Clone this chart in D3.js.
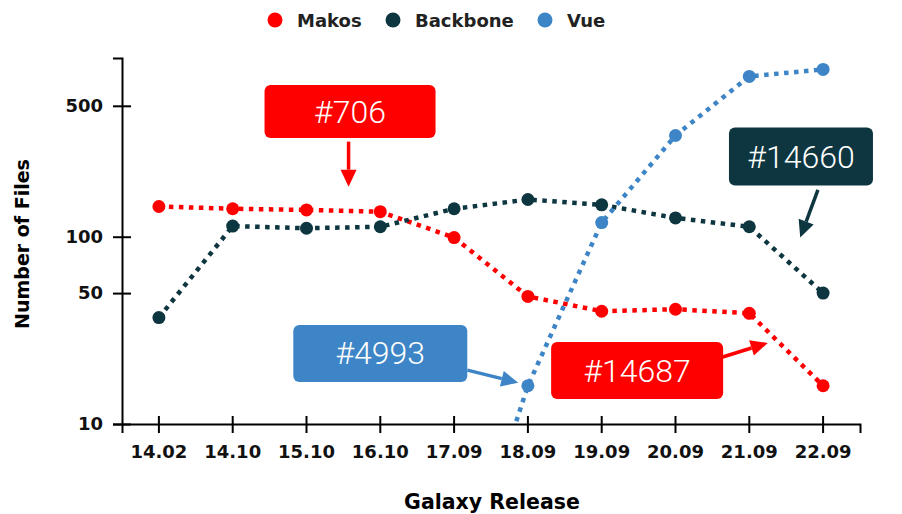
<!DOCTYPE html>
<html>
<head>
<meta charset="utf-8">
<script src="https://cdn.jsdelivr.net/npm/d3@7"></script>
<style>
  body { margin: 0; background: #fff; }
  svg text { font-family: "DejaVu Sans", Verdana, sans-serif; }
</style>
</head>
<body>
<script>
var releases = ["14.02", "14.10", "15.10", "16.10", "17.09", "18.09", "19.09", "20.09", "21.09", "22.09"];
var makos    = [145, 141, 139, 136, 99, 48, 40, 41, 39, 16];
var backbone = [37, 114, 111, 113, 141, 158, 148, 126, 113, 50];
var vue      = [null, null, null, null, 1, 16, 119, 347, 718, 782];
var yTicks   = [10, 50, 100, 500];

var seriesNames  = ["Makos", "Backbone", "Vue"];
var seriesColors = ["#ff0000", "#0e3640", "#3d85c6"];

// annotation boxes: box centre / arrow in (release index, file count)
var noteLabels = ["#706", "#14660", "#4993", "#14687"];
var noteColors = ["#ff0000", "#0e3640", "#3d85c6", "#ff0000"];
var noteBox    = [[2.59, 466], [8.70, 268], [3.00, 23.8], [6.48, 19.3]];
var noteFrom   = [[2.57, 322], [8.93, 178], [4.18, 19.4], [7.64, 22.8]];
var noteTo     = [[2.57, 185], [8.69, 99], [4.87, 16.6], [8.25, 27.1]];
var noteSize   = [[171, 53], [144, 58], [174, 57], [172, 57]];

var W = 902, H = 514;
var margin = {top: 58, right: 42, bottom: 90, left: 122},
    width = W - margin.left - margin.right,
    height = H - margin.top - margin.bottom;

var svg = d3.select("body").append("svg")
    .attr("width", W)
    .attr("height", H);

var g = svg.append("g")
    .attr("transform", "translate(" + margin.left + "," + margin.top + ")");

var x = d3.scaleBand().domain(releases).range([0, width]);
var y = d3.scaleLog().domain([10, 900]).range([height, 0]);

function xc(d) { return x(d) + x.bandwidth() / 2; }
function xPos(i) { return x(releases[0]) + x.bandwidth() / 2 + i * x.step(); }

g.append("clipPath").attr("id", "plot-clip")
  .append("rect").attr("x", 0).attr("y", 0).attr("width", width).attr("height", height);

// axes
var xAxis = g.append("g")
    .attr("transform", "translate(0," + height + ")")
    .call(d3.axisBottom(x).tickSizeOuter(0).tickSize(9).tickPadding(12));
xAxis.selectAll(".tick line").attr("y1", -8).attr("stroke-width", 2);
xAxis.select(".domain").attr("stroke-width", 2);
xAxis.selectAll(".tick text")
    .style("font-size", "18px").style("font-weight", "bold").attr("fill", "#111");

var yAxis = g.append("g")
    .call(d3.axisLeft(y).tickValues(yTicks).tickFormat(d3.format("d"))
      .tickSizeOuter(0).tickSize(9).tickPadding(10));
yAxis.selectAll(".tick line").attr("x1", 9).attr("stroke-width", 2);
yAxis.select(".domain").attr("stroke-width", 2);
yAxis.selectAll(".tick text")
    .style("font-size", "18px").style("font-weight", "bold").attr("fill", "#111");

// axis titles
svg.append("text")
    .attr("x", margin.left + width / 2 + 1)
    .attr("y", 509)
    .attr("text-anchor", "middle")
    .style("font-size", "20.5px").style("font-weight", "bold")
    .text("Galaxy Release");

svg.append("text")
    .attr("transform", "translate(29,244) rotate(-90)")
    .attr("text-anchor", "middle")
    .style("font-size", "19px").style("font-weight", "bold")
    .text("Number of Files");

// lines
var series = [makos, backbone, vue];
var line = d3.line()
    .defined(function(d) { return d != null; })
    .x(function(d, i) { return xc(releases[i]); })
    .y(function(d) { return y(d); });

var lines = g.append("g").attr("clip-path", "url(#plot-clip)");
series.forEach(function(vals, k) {
  lines.append("path")
      .datum(vals)
      .attr("d", line)
      .attr("fill", "none")
      .attr("stroke", seriesColors[k])
      .attr("stroke-width", 4.5)
      .attr("stroke-dasharray", "4.5,5.5");
});

series.forEach(function(vals, k) {
  g.append("g").selectAll("circle")
      .data(vals.map(function(v, i) { return {v: v, r: releases[i]}; })
                .filter(function(d) { return d.v != null && d.v >= 10; }))
      .enter().append("circle")
      .attr("cx", function(d) { return xc(d.r); })
      .attr("cy", function(d) { return y(d.v); })
      .attr("r", 6.5)
      .attr("fill", seriesColors[k]);
});

// legend
var legendX = [275, 393, 545];
var legend = svg.append("g");
seriesNames.forEach(function(name, k) {
  legend.append("circle")
      .attr("cx", legendX[k]).attr("cy", 20).attr("r", 7.5)
      .attr("fill", seriesColors[k]);
  legend.append("text")
      .attr("x", legendX[k] + 22).attr("y", 26.5)
      .style("font-size", "18px").style("font-weight", "bold")
      .attr("fill", "#222")
      .text(name);
});

// annotations
var notes = g.append("g");
noteLabels.forEach(function(label, k) {
  var cx = xPos(noteBox[k][0]), cy = y(noteBox[k][1]);
  var w = noteSize[k][0], h = noteSize[k][1];
  notes.append("rect")
      .attr("x", cx - w / 2).attr("y", cy - h / 2)
      .attr("width", w).attr("height", h)
      .attr("rx", 6)
      .attr("fill", noteColors[k]);
  notes.append("text")
      .attr("x", cx).attr("y", cy + 11)
      .attr("text-anchor", "middle")
      .style("font-family", "Roboto, sans-serif")
      .style("font-weight", 300)
      .style("font-size", "32px")
      .attr("fill", "#fff")
      .text(label);

  var x0 = xPos(noteFrom[k][0]), y0 = y(noteFrom[k][1]);
  var x1 = xPos(noteTo[k][0]), y1 = y(noteTo[k][1]);
  var ang = Math.atan2(y1 - y0, x1 - x0);
  var hl = 17, hw = 8;
  var bx = x1 - hl * Math.cos(ang), by = y1 - hl * Math.sin(ang);
  notes.append("line")
      .attr("x1", x0).attr("y1", y0).attr("x2", bx).attr("y2", by)
      .attr("stroke", noteColors[k]).attr("stroke-width", 3.5);
  notes.append("path")
      .attr("d", "M" + x1 + "," + y1 +
                 "L" + (bx - hw * Math.sin(ang)) + "," + (by + hw * Math.cos(ang)) +
                 "L" + (bx + hw * Math.sin(ang)) + "," + (by - hw * Math.cos(ang)) + "Z")
      .attr("fill", noteColors[k]);
});
</script>
</body>
</html>
